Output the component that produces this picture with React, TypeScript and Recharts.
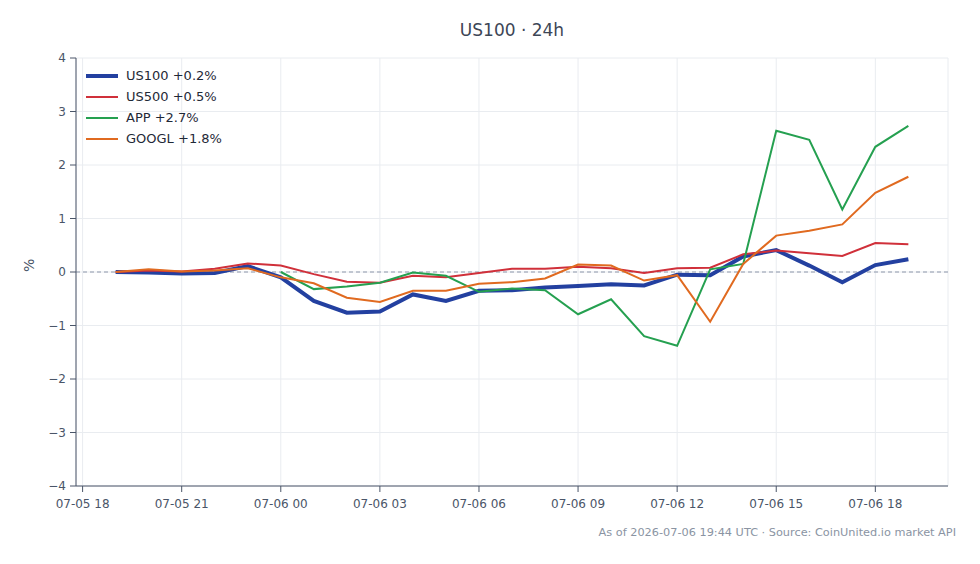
import React from 'react'
import {
  LineChart,
  Line,
  XAxis,
  YAxis,
  CartesianGrid,
  ReferenceLine
} from 'recharts'

// hours since 07-05 00:00, one sample per hour from 07-05 19:00 to 07-06 19:00
const hours = [19, 20, 21, 22, 23, 24, 25, 26, 27, 28, 29, 30, 31, 32, 33, 34, 35, 36, 37, 38, 39, 40, 41, 42, 43]

const us100 = [0, -0.01, -0.03, -0.02, 0.11, -0.1, -0.54, -0.76, -0.74, -0.42, -0.54, -0.35, -0.34, -0.29, -0.26, -0.23, -0.25, -0.05, -0.06, 0.29, 0.41, 0.12, -0.19, 0.13, 0.24]
const us500 = [0, 0.03, 0.01, 0.06, 0.16, 0.12, -0.04, -0.18, -0.2, -0.07, -0.1, -0.02, 0.06, 0.06, 0.1, 0.07, -0.02, 0.07, 0.08, 0.33, 0.4, 0.35, 0.3, 0.54, 0.52]
const app = [null, null, null, null, null, 0, -0.32, -0.27, -0.2, -0.01, -0.07, -0.37, -0.31, -0.34, -0.79, -0.51, -1.2, -1.38, 0.05, 0.15, 2.64, 2.47, 1.17, 2.34, 2.73]
const googl = [0, 0.05, 0.01, 0.03, 0.07, -0.1, -0.21, -0.48, -0.56, -0.35, -0.35, -0.22, -0.19, -0.12, 0.14, 0.12, -0.16, -0.06, -0.93, 0.15, 0.68, 0.77, 0.89, 1.48, 1.78]

const xTicks = [18, 21, 24, 27, 30, 33, 36, 39, 42]
const yTicks = [-4, -3, -2, -1, 0, 1, 2, 3, 4]

const series = [
  { key: 'us100', name: 'US100 +0.2%', color: '#2340a0', width: 4 },
  { key: 'us500', name: 'US500 +0.5%', color: '#d0303a', width: 2 },
  { key: 'app', name: 'APP +2.7%', color: '#25a050', width: 2 },
  { key: 'googl', name: 'GOOGL +1.8%', color: '#e06a20', width: 2 }
]

const data = hours.map((h, i) => ({
  h,
  us100: us100[i],
  us500: us500[i],
  app: app[i],
  googl: googl[i]
}))

const FONT = '"DejaVu Sans", sans-serif'
const INK = '#4a5568'

const pad = (n: number) => String(n).padStart(2, '0')
const fmtHour = (h: number) => `07-0${h >= 24 ? 6 : 5} ${pad(h % 24)}`
const fmtPct = (v: number) => (v < 0 ? `\u2212${Math.abs(v)}` : `${v}`)

// legend sits inside the plot, top-left
const LegendBox = () => (
  <div
    style={{
      position: 'absolute',
      left: 86,
      top: 65,
      fontFamily: FONT,
      fontSize: 13,
      color: '#1f2937'
    }}
  >
    {series.map((s) => (
      <div key={s.key} style={{ display: 'flex', alignItems: 'center', height: 21 }}>
        <span
          style={{
            display: 'inline-block',
            width: 32,
            height: s.width,
            background: s.color,
            marginRight: 8
          }}
        />
        {s.name}
      </div>
    ))}
  </div>
)

const App = () => (
  <div style={{ position: 'absolute', left: 0, top: 0, width: 980, height: 564, background: '#fff' }}>
    <div
      style={{
        position: 'absolute',
        top: 20,
        width: 1024,
        textAlign: 'center',
        fontFamily: FONT,
        fontSize: 17,
        color: '#3d4656'
      }}
    >
      US100 · 24h
    </div>
    <LineChart width={980} height={564} data={data} margin={{ top: 58, right: 32, bottom: 48, left: 0 }}>
      <CartesianGrid stroke="#e9ecf0" strokeWidth={1} />
      <XAxis
        dataKey="h"
        type="number"
        domain={[17.8, 44.2]}
        ticks={xTicks}
        tickFormatter={fmtHour}
        stroke={INK}
        tick={{ fill: INK, fontSize: 12, fontFamily: FONT }}
        tickSize={6}
        tickMargin={7}
        height={30}
        allowDataOverflow
      />
      <YAxis
        type="number"
        domain={[-4, 4]}
        ticks={yTicks}
        tickFormatter={fmtPct}
        stroke={INK}
        tick={{ fill: INK, fontSize: 12, fontFamily: FONT }}
        tickSize={6}
        tickMargin={4}
        width={76}
        label={{
          value: '%',
          angle: -90,
          position: 'insideLeft',
          offset: 29,
          style: { fill: INK, fontSize: 14, fontFamily: FONT }
        }}
      />
      <ReferenceLine y={0} stroke="#8e98ab" strokeDasharray="4 3" strokeWidth={1} />
      {series.map((s) => (
        <Line
          key={s.key}
          dataKey={s.key}
          name={s.name}
          stroke={s.color}
          strokeWidth={s.width}
          dot={false}
          activeDot={false}
          isAnimationActive={false}
        />
      ))}
    </LineChart>
    <LegendBox />
    <div
      style={{
        position: 'absolute',
        right: 24,
        top: 526,
        fontFamily: FONT,
        fontSize: 11.3,
        color: '#8a94a3'
      }}
    >
      As of 2026-07-06 19:44 UTC · Source: CoinUnited.io market API
    </div>
  </div>
)

export default App
